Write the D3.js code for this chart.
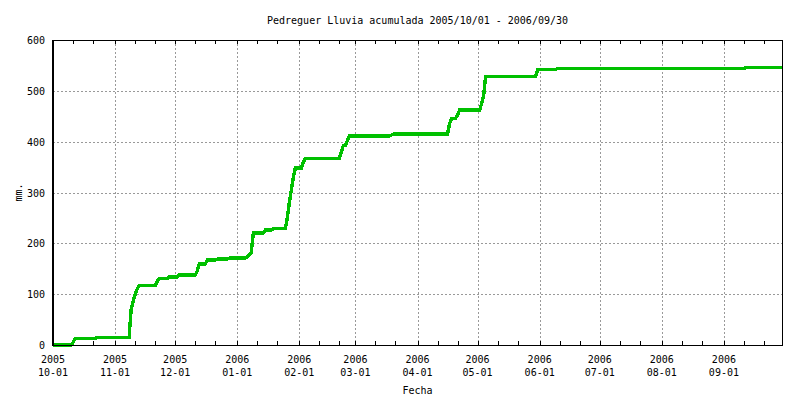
<!DOCTYPE html>
<html><head><meta charset="utf-8">
<script src="https://cdn.jsdelivr.net/npm/d3@7"></script>
<style>body{margin:0;background:#fff}svg{display:block}text{font-family:"DejaVu Sans Mono",monospace;font-size:10px;fill:#000}</style>
</head><body><svg id="c" width="800" height="400"></svg>
<script>
const title = "Pedreguer Lluvia acumulada 2005/10/01 - 2006/09/30";
const yLabel = "mm.";
const xLabel = "Fecha";
const yTicks = [0, 100, 200, 300, 400, 500, 600];
const monthTicks = ["2005-10-01","2005-11-01","2005-12-01","2006-01-01","2006-02-01","2006-03-01","2006-04-01","2006-05-01","2006-06-01","2006-07-01","2006-08-01","2006-09-01"];
const dates = ["2005-10-01","2005-10-10","2005-10-11","2005-10-12","2005-10-22","2005-10-23","2005-11-08","2005-11-09","2005-11-10","2005-11-11","2005-11-12","2005-11-13","2005-11-21","2005-11-22","2005-11-23","2005-11-27","2005-11-28","2005-12-02","2005-12-03","2005-12-11","2005-12-12","2005-12-13","2005-12-16","2005-12-17","2005-12-21","2005-12-22","2005-12-27","2005-12-28","2006-01-05","2006-01-06","2006-01-07","2006-01-08","2006-01-09","2006-01-14","2006-01-15","2006-01-18","2006-01-19","2006-01-25","2006-01-26","2006-01-27","2006-01-28","2006-01-29","2006-01-30","2006-02-02","2006-02-03","2006-02-04","2006-02-21","2006-02-22","2006-02-23","2006-02-24","2006-02-25","2006-02-26","2006-03-18","2006-03-19","2006-03-20","2006-04-16","2006-04-17","2006-04-18","2006-04-20","2006-04-21","2006-04-22","2006-05-02","2006-05-03","2006-05-04","2006-05-05","2006-05-30","2006-05-31","2006-06-09","2006-06-10","2006-09-11","2006-09-12","2006-09-30"];
const rain = [0,0,5,13,13,15,15,70,85,100,110,117,117,125,131,131,134,134,138,138,145,159,159,167,167,169,169,171,171,174,178,182,220,220,226,226,229,229,250,280,305,330,348,348,360,367,367,380,393,393,402,411,411,413,415,415,435,446,446,452,462,462,475,490,528,528,542,542,544,544,546,546];

const parse = d3.timeParse("%Y-%m-%d");
const L = 53, R = 782, T = 40, B = 345;
const svg = d3.select("#c");
const x = d3.scaleTime().domain([parse("2005-10-01"), parse("2006-09-30")]).range([L, R]);
const y = d3.scaleLinear().domain([0, 600]).range([B, T]);

// grid
const grid = svg.append("g").attr("stroke", "#999").attr("stroke-dasharray", "2,2").attr("shape-rendering", "crispEdges");
grid.selectAll(".gy").data(yTicks.filter(v => v > 0 && v < 600)).join("line")
  .attr("x1", L).attr("x2", R).attr("y1", d => Math.round(y(d)) + 0.5).attr("y2", d => Math.round(y(d)) + 0.5);
grid.selectAll(".gx").data(monthTicks.slice(1)).join("line")
  .attr("x1", d => Math.round(x(parse(d))) + 0.5).attr("x2", d => Math.round(x(parse(d))) + 0.5).attr("y1", T).attr("y2", B);

// minor ticks (1, 11, 21 of each month)
const minor = [];
monthTicks.forEach(m => { const d = parse(m); [1, 11, 21].forEach(day => minor.push(new Date(d.getFullYear(), d.getMonth(), day))); });
const tk = svg.append("g").attr("stroke", "#000").attr("shape-rendering", "crispEdges");
tk.selectAll(".tb").data(minor).join("line")
  .attr("x1", d => Math.round(x(d)) + 0.5).attr("x2", d => Math.round(x(d)) + 0.5).attr("y1", B).attr("y2", B - 4);
tk.selectAll(".tt").data(minor).join("line")
  .attr("x1", d => Math.round(x(d)) + 0.5).attr("x2", d => Math.round(x(d)) + 0.5).attr("y1", T).attr("y2", T + 4);

// line
const line = d3.line().x((d, i) => x(parse(dates[i]))).y(d => y(d));
svg.append("path").datum(rain).attr("d", line).attr("fill", "none")
  .attr("stroke", "#00c000").attr("stroke-width", 3.4).attr("stroke-linejoin", "miter")
  .attr("shape-rendering", "crispEdges");

// frame
svg.append("rect").attr("x", L + 0.5).attr("y", T + 0.5).attr("width", R - L).attr("height", B - T)
  .attr("fill", "none").attr("stroke", "#000").attr("shape-rendering", "crispEdges");
svg.append("line").attr("x1", L).attr("x2", L).attr("y1", T).attr("y2", B + 1).attr("stroke", "#000").attr("stroke-width", 2).attr("shape-rendering", "crispEdges");

// y labels
svg.append("g").selectAll("text").data(yTicks).join("text")
  .attr("x", 45).attr("y", d => y(d) + 4).attr("text-anchor", "end").text(d => d);

// x labels
const xl = svg.append("g").selectAll("text").data(monthTicks).join("text")
  .attr("text-anchor", "middle");
xl.append("tspan").attr("x", d => x(parse(d))).attr("y", 363).text(d => d.slice(0, 4));
xl.append("tspan").attr("x", d => x(parse(d))).attr("y", 376).text(d => d.slice(5));

svg.append("text").attr("x", (L + R) / 2).attr("y", 24).attr("text-anchor", "middle").text(title);
svg.append("text").attr("x", (L + R) / 2).attr("y", 394).attr("text-anchor", "middle").text(xLabel);
svg.append("text").attr("transform", `translate(22,${(T + B) / 2}) rotate(-90)`).attr("text-anchor", "middle").text(yLabel);
</script></body></html>
